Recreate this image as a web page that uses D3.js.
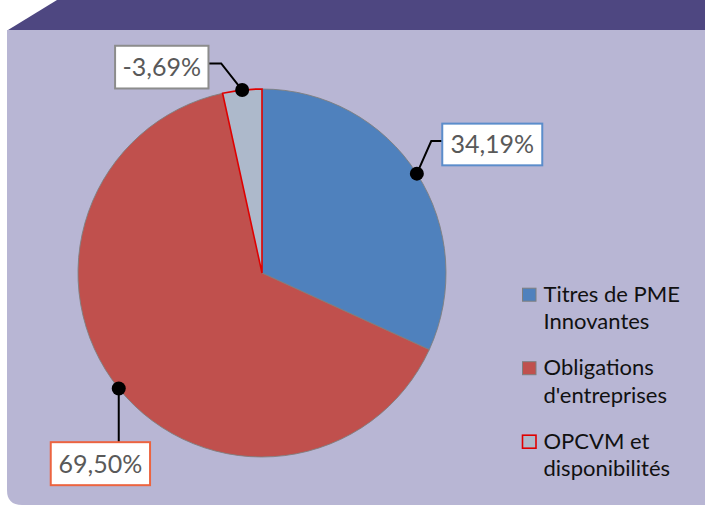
<!DOCTYPE html>
<html>
<head>
<meta charset="utf-8">
<script src="https://cdn.jsdelivr.net/npm/d3@7"></script>
<style>
  html, body { margin: 0; padding: 0; background: #ffffff; }
  svg { display: block; }
</style>
</head>
<body>
<svg id="chart" width="705" height="506"></svg>
<script>
// Portfolio breakdown (shares in %)
const categories = ["Titres de PME Innovantes", "Obligations d'entreprises", "OPCVM et disponibilités"];
const legendLines = [["Titres de PME", "Innovantes"], ["Obligations", "d'entreprises"], ["OPCVM et", "disponibilités"]];
const shares = [34.19, 69.50, -3.69];
const fills = ["#4f81bd", "#c0504d", "#adb9cb"];
const strokes = ["#7f7f7f", "#7f7f7f", "#e00000"];
const labelBorders = ["#5b8dcb", "#ec6440", "#8c8c8c"];

const W = 705, H = 506;
const svg = d3.select("#chart");

// Frame: dark bevelled top strip and lavender panel
svg.append("path")
  .attr("d", "M57,0 L705,0 L705,30 L8,30 Z")
  .attr("fill", "#4e4781");
const pr = 15, px = 7, py = 30, pb = 505;
svg.append("path")
  .attr("d", `M${px},${py} L${W},${py} L${W},${pb} L${px + pr},${pb} Q${px},${pb} ${px},${pb - pr} Z`)
  .attr("fill", "#b8b6d4");

// Pie
const cx = 262, cy = 273, r = 184;
const g = svg.append("g").attr("transform", `translate(${cx},${cy})`);
const pie = d3.pie().sort(null).value(d => Math.abs(d));
const arcs = pie(shares);
const arc = d3.arc().innerRadius(0).outerRadius(r);
const edge = d3.arc().innerRadius(r).outerRadius(r);

const order = [0, 1, 2];
g.selectAll("path.slice")
  .data(order.map(i => arcs[i]))
  .join("path")
  .attr("class", "slice")
  .attr("d", arc)
  .attr("fill", (d, i) => fills[i])
  .attr("stroke", (d, i) => strokes[i])
  .attr("stroke-width", (d, i) => i === 2 ? 1.6 : 0.9)
  .attr("stroke-linejoin", "miter");

// Data labels with leader lines
const locale = d3.formatLocale({ decimal: ",", thousands: " ", grouping: [3], currency: ["", " €"], minus: "-" });
const fmt = locale.format(".2f");

// Box offsets relative to the anchor dot: [left, top, width, height]
const labelLayout = [
  { box: [25.4, -50, 100, 41.7], path: [[14.4, -32.6], [25.4, -32.6]] },
  { box: [-68, 53.7, 99.3, 43], path: [[0, 53.7]] },
  { box: [-127.1, -44.3, 93.4, 42.7], path: [[-21, -26.6], [-33.7, -26.6]] }
];

arcs.forEach((a, i) => {
  const [dx, dy] = edge.centroid(a);
  const ax = cx + dx, ay = cy + dy;
  const L = labelLayout[i];
  const pts = [[ax, ay]].concat(L.path.map(p => [ax + p[0], ay + p[1]]));
  svg.append("path")
    .attr("d", d3.line()(pts))
    .attr("fill", "none")
    .attr("stroke", "#000")
    .attr("stroke-width", 2);
  svg.append("circle")
    .attr("cx", ax).attr("cy", ay).attr("r", 7)
    .attr("fill", "#000");
  const [bx, by, bw, bh] = L.box;
  svg.append("rect")
    .attr("x", ax + bx).attr("y", ay + by)
    .attr("width", bw).attr("height", bh)
    .attr("fill", "#ffffff")
    .attr("stroke", labelBorders[i])
    .attr("stroke-width", 2);
  svg.append("text")
    .attr("x", ax + bx + bw / 2)
    .attr("y", ay + by + bh / 2 + 9)
    .attr("text-anchor", "middle")
    .attr("font-family", "Lato, 'Open Sans', sans-serif")
    .attr("font-size", 25)
    .attr("fill", "#595959")
    .text(fmt(shares[i]) + "%");
});

// Legend
const legend = svg.append("g").attr("font-family", "Lato, 'Open Sans', sans-serif").attr("font-size", 22).attr("fill", "#111");
const legendTop = 301.7, groupGap = 73.5, lineGap = 27.6;
categories.forEach((c, i) => {
  const base = legendTop + i * groupGap;
  legend.append("rect")
    .attr("x", 522.5).attr("y", base - 13.5)
    .attr("width", 13.5).attr("height", 13)
    .attr("fill", fills[i])
    .attr("stroke", i === 2 ? "#e00000" : "#7f7f7f")
    .attr("stroke-width", i === 2 ? 1.6 : 1);
  legendLines[i].forEach((t, j) => {
    legend.append("text")
      .attr("x", 543.5)
      .attr("y", base + j * lineGap)
      .text(t);
  });
});
</script>
</body>
</html>
